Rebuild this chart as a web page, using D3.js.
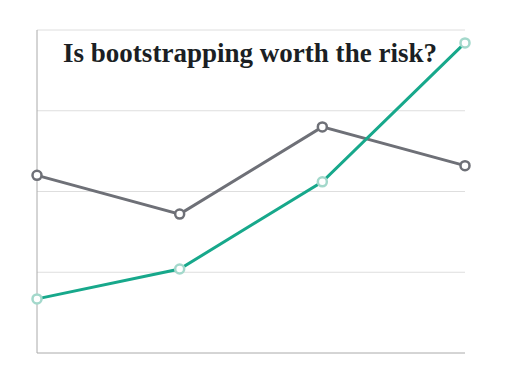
<!DOCTYPE html>
<html>
<head>
<meta charset="utf-8">
<script src="https://cdn.jsdelivr.net/npm/d3@7"></script>
<style>
  html, body { margin: 0; padding: 0; background: #fff; }
</style>
</head>
<body>
<svg id="chart"></svg>
<script>
const categories = ["A", "B", "C", "D"];
const grayValues = [2.2, 1.72, 2.8, 2.32];
const tealValues = [0.67, 1.04, 2.12, 3.84];
const gridTicks = [1, 2, 3, 4];

const width = 512;
const height = 384;

const svg = d3.select("#chart").attr("width", width).attr("height", height);

const x = d3.scalePoint().domain(categories).range([37, 465]);
const y = d3.scaleLinear().domain([0, 4]).range([353, 30]);

// gridlines
svg
  .selectAll("line.grid")
  .data(gridTicks)
  .join("line")
  .attr("class", "grid")
  .attr("x1", 37)
  .attr("x2", 465)
  .attr("y1", (d) => y(d))
  .attr("y2", (d) => y(d))
  .attr("stroke", "#dedede")
  .attr("stroke-width", 1);

// axes
svg
  .append("line")
  .attr("x1", 37)
  .attr("x2", 37)
  .attr("y1", y(4))
  .attr("y2", y(0))
  .attr("stroke", "#aaaaaa")
  .attr("stroke-width", 1);

svg
  .append("line")
  .attr("x1", 37)
  .attr("x2", 465)
  .attr("y1", y(0))
  .attr("y2", y(0))
  .attr("stroke", "#aaaaaa")
  .attr("stroke-width", 1);

// title
svg
  .append("text")
  .attr("x", 250)
  .attr("y", 62)
  .attr("text-anchor", "middle")
  .attr("font-family", "Liberation Serif, DejaVu Serif, serif")
  .attr("font-size", 27)
  .attr("font-weight", "bold")
  .attr("fill", "#1b1f24")
  .attr("textLength", 374)
  .attr("lengthAdjust", "spacingAndGlyphs")
  .text("Is bootstrapping worth the risk?");

const line = d3
  .line()
  .x((d, i) => x(categories[i]))
  .y((d) => y(d));

const drawSeries = (values, color, markerColor) => {
  svg
    .append("path")
    .datum(values)
    .attr("d", line)
    .attr("fill", "none")
    .attr("stroke", color)
    .attr("stroke-width", 3);

  svg
    .append("g")
    .selectAll("circle")
    .data(values)
    .join("circle")
    .attr("cx", (d, i) => x(categories[i]))
    .attr("cy", (d) => y(d))
    .attr("r", 4.5)
    .attr("fill", "#fff")
    .attr("stroke", markerColor)
    .attr("stroke-width", 2.5);
};

drawSeries(grayValues, "#6e7077", "#6e7077");
drawSeries(tealValues, "#17a88b", "#a3d8cb");
</script>
</body>
</html>
